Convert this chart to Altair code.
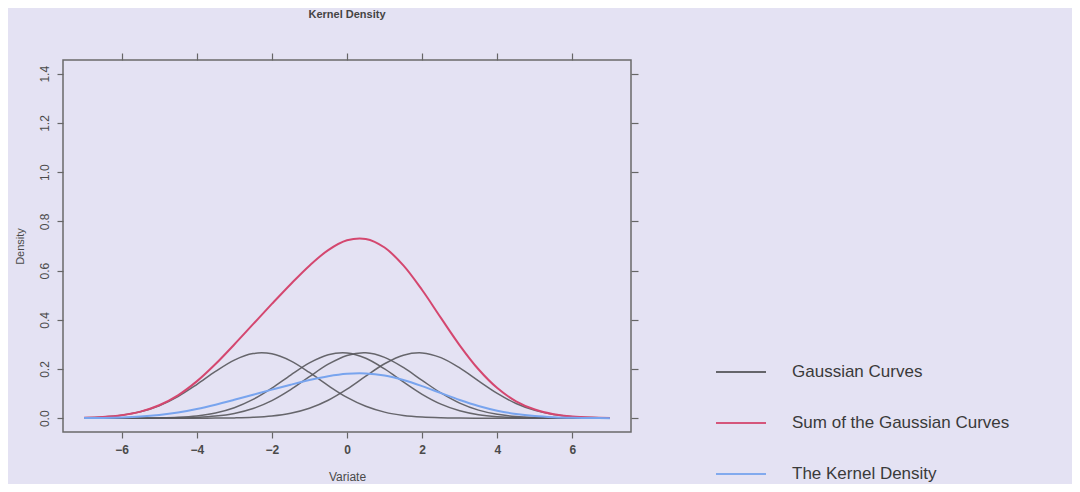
import altair as alt
import pandas as pd

x_vals = [-7.0, -6.5, -6.0, -5.5, -5.0, -4.5, -4.0, -3.5, -3.0, -2.5, -2.0, -1.5, -1.0, -0.5,
          0.0, 0.5, 1.0, 1.5, 2.0, 2.5, 3.0, 3.5, 4.0, 4.5, 5.0, 5.5, 6.0, 6.5, 7.0]

gauss_1 = [0.0018, 0.0050, 0.0121, 0.0262, 0.0508, 0.0881, 0.1368, 0.1901, 0.2363, 0.2629,
           0.2617, 0.2332, 0.1859, 0.1326, 0.0846, 0.0484, 0.0247, 0.0113, 0.0046, 0.0017,
           0.0006, 0.0002, 0.0000, 0.0000, 0.0000, 0.0000, 0.0000, 0.0000, 0.0000]
gauss_2 = [0.0000, 0.0000, 0.0001, 0.0004, 0.0014, 0.0038, 0.0095, 0.0213, 0.0427, 0.0763,
           0.1223, 0.1753, 0.2248, 0.2580, 0.2650, 0.2436, 0.2003, 0.1474, 0.0971, 0.0572,
           0.0302, 0.0142, 0.0060, 0.0023, 0.0008, 0.0002, 0.0001, 0.0000, 0.0000]
gauss_3 = [0.0000, 0.0000, 0.0000, 0.0001, 0.0004, 0.0012, 0.0034, 0.0086, 0.0195, 0.0395,
           0.0716, 0.1162, 0.1689, 0.2195, 0.2553, 0.2657, 0.2475, 0.2063, 0.1538, 0.1027,
           0.0613, 0.0328, 0.0157, 0.0067, 0.0026, 0.0009, 0.0003, 0.0001, 0.0000]
gauss_4 = [0.0000, 0.0000, 0.0000, 0.0000, 0.0000, 0.0000, 0.0001, 0.0004, 0.0013, 0.0035,
           0.0089, 0.0201, 0.0405, 0.0732, 0.1183, 0.1710, 0.2213, 0.2562, 0.2655, 0.2462,
           0.2043, 0.1517, 0.1008, 0.0599, 0.0319, 0.0152, 0.0065, 0.0025, 0.0008]
gauss_sum = [0.0018, 0.0050, 0.0122, 0.0267, 0.0526, 0.0931, 0.1498, 0.2204, 0.2998, 0.3822,
             0.4645, 0.5448, 0.6201, 0.6833, 0.7232, 0.7287, 0.6938, 0.6212, 0.5210, 0.4078,
             0.2964, 0.1989, 0.1225, 0.0689, 0.0353, 0.0163, 0.0069, 0.0026, 0.0008]
kernel_density = [0.0005, 0.0013, 0.0031, 0.0067, 0.0132, 0.0233, 0.0375, 0.0551, 0.0750, 0.0956,
                  0.1161, 0.1362, 0.1550, 0.1708, 0.1808, 0.1822, 0.1735, 0.1553, 0.1303, 0.1020,
                  0.0741, 0.0497, 0.0306, 0.0172, 0.0088, 0.0041, 0.0017, 0.0007, 0.0002]

series_names = ["Gaussian Curves", "Sum of the Gaussian Curves", "The Kernel Density"]
series_colors = ["#58585c", "#d4476f", "#78a4ee"]
x_ticks = [-6, -4, -2, 0, 2, 4, 6]
y_ticks = [0.0, 0.2, 0.4, 0.6, 0.8, 1.0, 1.2, 1.4]

rows_g = []
for k, g in enumerate([gauss_1, gauss_2, gauss_3, gauss_4]):
    for xv, yv in zip(x_vals, g):
        rows_g.append({"x": xv, "y": yv, "series": series_names[0], "curve": f"g{k}"})
df_g = pd.DataFrame(rows_g)
df_s = pd.DataFrame({"x": x_vals, "y": gauss_sum, "series": series_names[1]})
df_k = pd.DataFrame({"x": x_vals, "y": kernel_density, "series": series_names[2]})

FONT = "Liberation Sans"
INTERP = "catmull-rom"
xs = alt.Scale(domain=[-7.56, 7.56], nice=False, zero=False)
ys = alt.Scale(domain=[-0.056, 1.456], nice=False, zero=False)
cs = alt.Scale(domain=series_names, range=series_colors)

legend = alt.Legend(title=None, orient="none", legendX=652, legendY=286,
                    symbolType="stroke", symbolSize=2500, symbolStrokeWidth=2,
                    labelFontSize=17, labelFont=FONT, labelColor="#3a3a3a",
                    labelOffset=25, rowPadding=17, padding=0, labelLimit=400)

x_axis = alt.Axis(values=x_ticks, title="Variate", grid=False, domain=False,
                  tickSize=6, tickColor="#666", tickWidth=1.2,
                  labelFont=FONT, labelFontSize=12, labelFontWeight="bold", labelColor="#4a4a4a",
                  labelPadding=6, titleFont=FONT, titleFontSize=12, titleFontWeight="normal",
                  titleColor="#4a4a4a", titlePadding=16)
y_axis = alt.Axis(values=y_ticks, title="Density", grid=False, domain=False,
                  tickSize=6, tickColor="#666", tickWidth=1.2, format=".1f",
                  labelAngle=270, labelAlign="center", labelBaseline="bottom",
                  labelFont=FONT, labelFontSize=12, labelColor="#4a4a4a",
                  labelPadding=6, titleFont=FONT, titleFontSize=11, titleFontWeight="normal",
                  titleColor="#4a4a4a", titlePadding=13)
x_top = alt.Axis(values=x_ticks, orient="top", labels=False, title=None, grid=False,
                 domain=False, tickSize=7, tickColor="#666", tickWidth=1.2)
y_right = alt.Axis(values=y_ticks, orient="right", labels=False, title=None, grid=False,
                   domain=False, tickSize=7, tickColor="#666", tickWidth=1.2)

gray = alt.Chart(df_g).mark_line(strokeWidth=1.5, interpolate=INTERP, opacity=0.9).encode(
    x=alt.X("x:Q", scale=xs, axis=x_axis),
    y=alt.Y("y:Q", scale=ys, axis=y_axis),
    color=alt.Color("series:N", scale=cs, legend=legend),
    detail="curve:N",
)
red = alt.Chart(df_s).mark_line(strokeWidth=2, interpolate=INTERP).encode(
    x=alt.X("x:Q", scale=xs, axis=None),
    y=alt.Y("y:Q", scale=ys, axis=None),
    color=alt.Color("series:N", scale=cs, legend=legend),
)
blue = alt.Chart(df_k).mark_line(strokeWidth=2, interpolate=INTERP).encode(
    x=alt.X("x:Q", scale=xs, axis=None),
    y=alt.Y("y:Q", scale=ys, axis=None),
    color=alt.Color("series:N", scale=cs, legend=legend),
)
frame_axes = alt.Chart(df_s).mark_line(opacity=0).encode(
    x=alt.X("x:Q", scale=xs, axis=x_top),
    y=alt.Y("y:Q", scale=ys, axis=y_right),
)

chart = alt.layer(gray, red, blue, frame_axes).resolve_axis(
    x="independent", y="independent"
).properties(
    width=568, height=372,
    title=alt.TitleParams("Kernel Density", font=FONT, fontSize=11, fontWeight="bold",
                          color="#444", offset=32, anchor="middle"),
    autosize=alt.AutoSizeParams(type="none"),
    padding={"left": 55, "top": 52, "right": 441, "bottom": 52},
).configure(background="#e4e2f3").configure_view(stroke="#6a6a6a", strokeWidth=1.5)

chart.save("out.html", embed_options={"renderer": "svg", "actions": False})
